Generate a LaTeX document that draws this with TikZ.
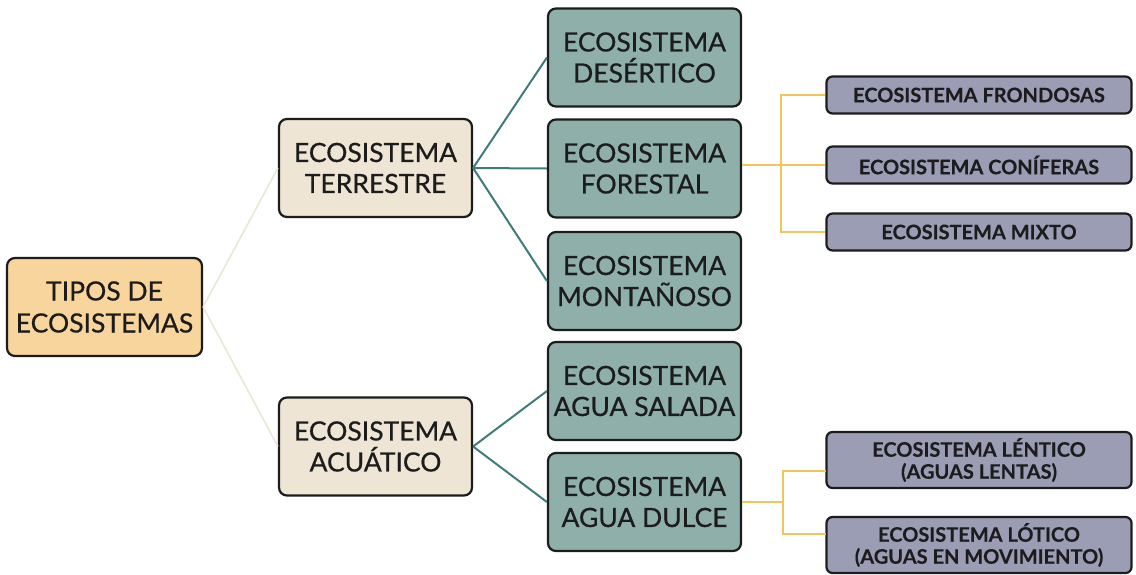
\documentclass[tikz,border=0pt]{standalone}
\usepackage{fontspec}
\setmainfont{Lato}[FakeBold=0.6]
\newfontfamily\purfont{Lato}[UprightFont={* Bold}, FakeBold=0.3]
\definecolor{rootfill}{HTML}{F9D59E}
\definecolor{levfill}{HTML}{EEE5D5}
\definecolor{tealfill}{HTML}{8FAFAA}
\definecolor{purfill}{HTML}{9B9DB5}
\definecolor{boxline}{HTML}{1C1C1C}
\definecolor{tealline}{HTML}{3F7B78}
\definecolor{goldline}{HTML}{F0C55A}
\definecolor{paleline}{HTML}{E9E7D6}
\begin{document}
\begin{tikzpicture}[x=1pt,y=-1pt,
  box/.style={draw=boxline, line width=2.2pt, rounded corners=8pt, align=center, inner sep=0pt, text=boxline},
  rootbox/.style={box, fill=rootfill, minimum width=195pt, minimum height=98pt, font=\fontsize{26.5}{32}\selectfont},
  levbox/.style={box, fill=levfill, minimum width=193pt, minimum height=98pt, font=\fontsize{26.5}{31}\selectfont},
  tealbox/.style={box, fill=tealfill, minimum width=193pt, minimum height=98pt, font=\fontsize{26.5}{31}\selectfont},
  purbox/.style={box, fill=purfill, rounded corners=6pt, minimum width=305pt, font=\purfont\fontsize{20}{22}\selectfont},
  paleconn/.style={draw=paleline, line width=1.6pt},
  tealconn/.style={draw=tealline, line width=2pt},
  goldconn/.style={draw=goldline, line width=2pt},
]
\useasboundingbox (0,0) rectangle (1136,574);
\fill[white] (0,0) rectangle (1136,574);

\node[rootbox] (root) at (104.5,307) {TIPOS DE\\ECOSISTEMAS};
\node[levbox] (terr) at (375.5,168) {ECOSISTEMA\\TERRESTRE};
\node[levbox] (acua) at (375.5,446.5) {ECOSISTEMA\\ACUÁTICO};

\node[tealbox] (des) at (644.5,57.5) {ECOSISTEMA\\DESÉRTICO};
\node[tealbox] (for) at (644.5,168.5) {ECOSISTEMA\\FORESTAL};
\node[tealbox] (mon) at (644.5,281) {ECOSISTEMA\\MONTAÑOSO};
\node[tealbox] (sal) at (644.5,391) {ECOSISTEMA\\AGUA SALADA};
\node[tealbox] (dul) at (644.5,502) {ECOSISTEMA\\AGUA DULCE};

\node[purbox, minimum height=37pt] (fro) at (979,95) {ECOSISTEMA FRONDOSAS};
\node[purbox, minimum height=37pt] (con) at (979,165) {ECOSISTEMA CONÍFERAS};
\node[purbox, minimum height=37pt] (mix) at (979,232) {ECOSISTEMA MIXTO};
\node[purbox, minimum height=56pt] (len) at (979,460) {ECOSISTEMA LÉNTICO\\(AGUAS LENTAS)};
\node[purbox, minimum height=56pt] (lot) at (979,545) {ECOSISTEMA LÓTICO\\(AGUAS EN MOVIMIENTO)};

\draw[paleconn] (root.east) -- (terr.west);
\draw[paleconn] (root.east) -- (acua.west);

\draw[tealconn] (terr.east) -- (des.west);
\draw[tealconn] (terr.east) -- (for.west);
\draw[tealconn] (terr.east) -- (mon.west);
\draw[tealconn] (acua.east) -- (sal.west);
\draw[tealconn] (acua.east) -- (dul.west);

\coordinate (fj) at (781,165);
\draw[goldconn] (fj -| for.east) -- (con.west);
\draw[goldconn] (fro.west) -| (fj) |- (mix.west);

\coordinate (dj) at (783,502);
\coordinate (lenarm) at (826,471);
\coordinate (lotarm) at (826,534);
\draw[goldconn] (dul.east) -- (dj);
\draw[goldconn] (lenarm) -| (dj) |- (lotarm);
\end{tikzpicture}
\end{document}
